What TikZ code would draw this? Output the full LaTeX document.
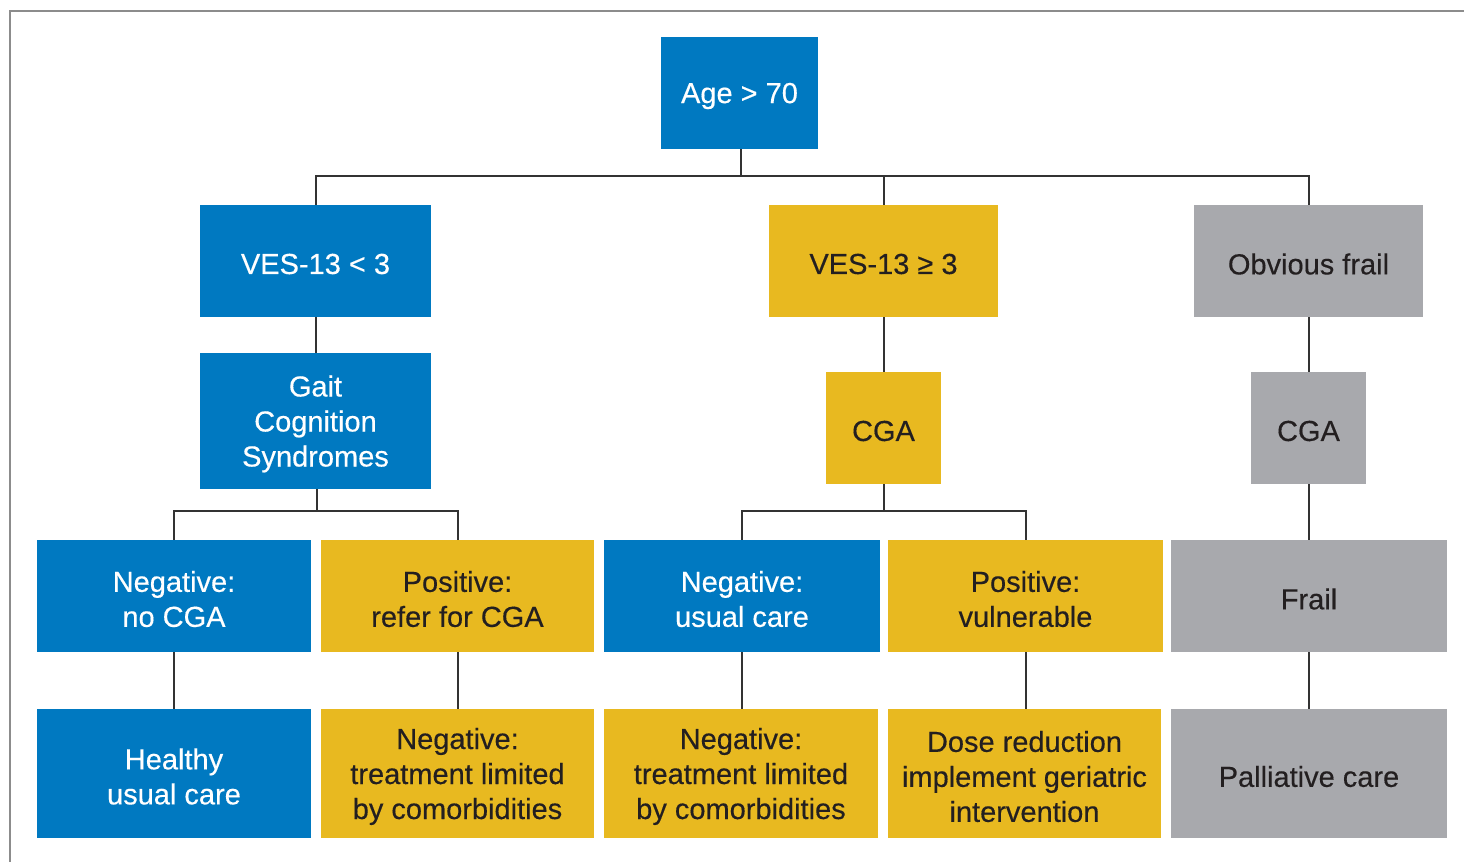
\documentclass[tikz,border=0pt]{standalone}
\usepackage{fontspec}
\setmainfont{Liberation Sans}
\newfontfamily\medfont{Liberation Sans}[FakeBold=0.35]
\definecolor{cblue}{HTML}{0079C1}
\definecolor{cyellow}{HTML}{E8B920}
\definecolor{cgray}{HTML}{A8A9AD}
\definecolor{ctext}{HTML}{231F20}
\definecolor{cline}{HTML}{333333}
\definecolor{cframe}{HTML}{8C8C8C}
\begin{document}
\begin{tikzpicture}[x=0.5pt,y=-0.5pt,
  box/.style={rectangle, inner sep=0pt},
  bluebox/.style={box, fill=cblue, label={[txt, text=white]center:#1}},
  yelbox/.style={box, fill=cyellow, label={[txt, text=ctext]center:#1}},
  graybox/.style={box, fill=cgray, label={[txt, text=ctext]center:#1}},
  txt/.style={inner sep=0pt, align=center, yshift=-1.5pt, font=\medfont\fontsize{14.5}{17.5}\selectfont},
  conn/.style={draw=cline, line width=1pt}]
\useasboundingbox (0,0) rectangle (1464,862);
\fill[white] (0,0) rectangle (1464,862);
\draw[cframe, line width=1.2pt] (1464,11) -- (10,11) -- (10,862);
% row 0
\node[bluebox={Age > 70}, minimum width=78.5pt, minimum height=56pt] (age) at (739.5,93) {};
% row 1
\node[bluebox={VES-13 < 3}, minimum width=115.5pt, minimum height=56pt] (v1) at (315.5,261) {};
\node[yelbox={VES-13 ≥ 3}, minimum width=114.5pt, minimum height=56pt] (v2) at (883.5,261) {};
\node[graybox={Obvious frail}, minimum width=114.5pt, minimum height=56pt] (of) at (1308.5,261) {};
% row 2
\node[bluebox={Gait\\Cognition\\Syndromes}, minimum width=115.5pt, minimum height=68pt] (gait) at (315.5,421) {};
\node[yelbox={CGA}, minimum width=57.5pt, minimum height=56pt] (cga1) at (883.5,428) {};
\node[graybox={CGA}, minimum width=57.5pt, minimum height=56pt] (cga2) at (1308.5,428) {};
% row 3
\node[bluebox={Negative:\\no CGA}, minimum width=137pt, minimum height=56pt] (n1) at (174,596) {};
\node[yelbox={Positive:\\refer for CGA}, minimum width=136.5pt, minimum height=56pt] (p1) at (457.5,596) {};
\node[bluebox={Negative:\\usual care}, minimum width=138pt, minimum height=56pt] (n2) at (742,596) {};
\node[yelbox={Positive:\\vulnerable}, minimum width=137.5pt, minimum height=56pt] (p2) at (1025.5,596) {};
\node[graybox={Frail}, minimum width=138pt, minimum height=56pt] (fr) at (1309,596) {};
% row 4
\node[bluebox={Healthy\\usual care}, minimum width=137pt, minimum height=64.5pt] (h) at (174,773.5) {};
\node[yelbox={Negative:\\treatment limited\\by comorbidities}, minimum width=136.5pt, minimum height=64.5pt] (nt1) at (457.5,773.5) {};
\node[yelbox={Negative:\\treatment limited\\by comorbidities}, minimum width=137pt, minimum height=64.5pt] (nt2) at (741,773.5) {};
\node[yelbox={Dose reduction\\implement geriatric\\intervention}, minimum width=136.5pt, minimum height=64.5pt] (dr) at (1024.5,773.5) {};
\node[graybox={Palliative care}, minimum width=138pt, minimum height=64.5pt] (pc) at (1309,773.5) {};
% connectors
\coordinate (j0) at (741,176);
\draw[conn] (age.south -| j0) -- (j0);
\draw[conn] (v1.north) |- (j0) -| (of.north);
\draw[conn] (j0) -| (v2.north);
\draw[conn] (v1) -- (gait);
\coordinate (j1) at (317,511);
\draw[conn] (gait.south -| j1) -- (j1);
\draw[conn] (n1.north) |- (j1) -| (p1.north);
\draw[conn] (n1) -- (h);
\draw[conn] (p1) -- (nt1);
\draw[conn] (v2) -- (cga1);
\coordinate (j2) at (883.5,511);
\draw[conn] (cga1.south) -- (j2);
\draw[conn] (n2.north) |- (j2) -| (p2.north);
\draw[conn] (n2.south) -- (n2.south |- nt2.north);
\draw[conn] (p2.south) -- (p2.south |- dr.north);
\draw[conn] (of) -- (cga2);
\draw[conn] (cga2.south) -- (cga2.south |- fr.north);
\draw[conn] (fr.south) -- (fr.south |- pc.north);
\end{tikzpicture}
\end{document}
